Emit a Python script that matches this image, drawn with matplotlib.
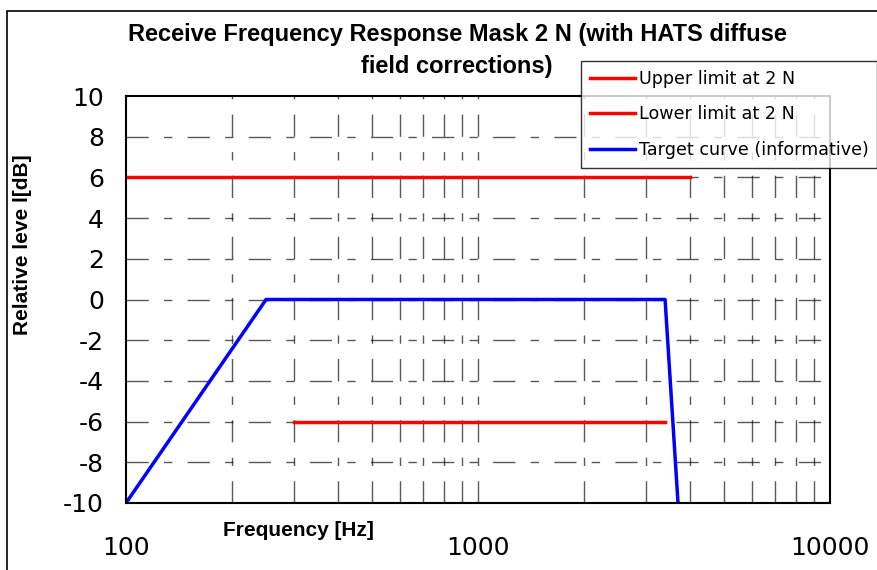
import matplotlib.pyplot as plt
from matplotlib.patches import Rectangle
import numpy as np

plt.rcParams["axes.unicode_minus"] = False

# datos
upper_f = [100, 4000]
upper_db = [6, 6]
lower_f = [300, 3400]
lower_db = [-6, -6]
target_f = [100, 250, 3400, 3700]
target_db = [-10, 0, 0, -10]

fig = plt.figure(figsize=(8.78, 5.70), dpi=100)
ax = fig.add_axes([126 / 878, 1 - 503 / 570, (830 - 126) / 878, (503 - 96) / 570])

# marco exterior (solo se ven el borde izquierdo y el superior)
top = 1 - 11 / 570
fig.patches.append(Rectangle((7 / 878, -0.2), 1.5, top + 0.2,
                             transform=fig.transFigure, fill=False, lw=1.2, ec="black"))

ax.plot(upper_f, upper_db, color="red", lw=2.5, label="Upper limit at 2 N")
ax.plot(lower_f, lower_db, color="red", lw=2.5, label="Lower limit at 2 N")
ax.plot(target_f, target_db, color="blue", lw=2.5, label="Target curve (informative)")

ax.set_xscale("log")
ax.set_xlim(100, 10000)
ax.set_ylim(-10, 10)
ax.set_yticks(np.arange(-10, 11, 2))
ax.set_xticks([100, 1000, 10000])
ax.set_xticklabels(["100", "1000", "10000"])
ax.minorticks_off()
ax.tick_params(length=0, labelsize=18)
ax.tick_params(axis="y", pad=16)
ax.tick_params(axis="x", pad=24)

# rejilla punteada larga-corta
dash = (0, (16, 11, 6, 11))
minor = [m * d for d in (100, 1000) for m in range(2, 10)] + [1000]
for f in minor:
    ax.axvline(f, color="black", lw=1, ls=dash, alpha=0.65, zorder=0)
for y in range(-8, 10, 2):
    ax.axhline(y, color="black", lw=1, ls=dash, alpha=0.65, zorder=0)

for s in ax.spines.values():
    s.set_linewidth(1.5)

ax.set_xlabel("Frequency [Hz]", fontsize=15, fontweight="bold",
              family="Liberation Sans")
ax.xaxis.set_label_coords(0.245, -0.045)
ax.set_ylabel("Relative leve l[dB]", fontsize=15, fontweight="bold",
              family="Liberation Sans")
ax.yaxis.set_label_coords(-0.133, 0.634)

fig.text(457 / 878, 1 - 35 / 570, "Receive Frequency Response Mask 2 N (with HATS diffuse",
         ha="center", va="center", fontsize=17, fontweight="bold", family="Liberation Sans")
fig.text(457 / 878, 1 - 67 / 570, "field corrections)",
         ha="center", va="center", fontsize=17, fontweight="bold", family="Liberation Sans")

leg = fig.legend(loc="upper left", bbox_to_anchor=(581 / 878, 1 - 61 / 570),
                 fontsize=12.6, frameon=True, fancybox=False, edgecolor="black",
                 handlelength=2.6, borderpad=0.5, labelspacing=1.0,
                 handletextpad=0.2, borderaxespad=0)
leg.get_frame().set_linewidth(1)

fig.savefig("out.png", dpi=100)
